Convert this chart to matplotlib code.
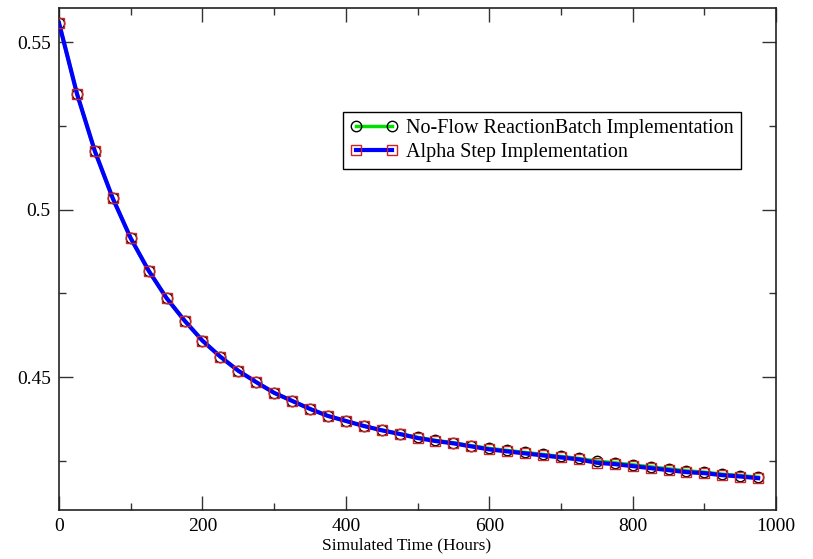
import matplotlib
matplotlib.use("Agg")
import matplotlib.pyplot as plt
import numpy as np

# Simulated time (hours), sampled every 25 h
hours = np.arange(0, 1000, 25)

# No-Flow ReactionBatch implementation
reaction_batch = [
    0.5558, 0.5347, 0.5175, 0.5034, 0.4915, 0.4818, 0.4736, 0.4669,
    0.4609, 0.4561, 0.4519, 0.4485, 0.4453, 0.4429, 0.4405, 0.4384,
    0.4369, 0.4354, 0.4342, 0.4331, 0.4320, 0.4311, 0.4304, 0.4295,
    0.4287, 0.4281, 0.4275, 0.4269, 0.4263, 0.4257, 0.4249, 0.4244,
    0.4238, 0.4232, 0.4226, 0.4220, 0.4216, 0.4210, 0.4206, 0.4201,
]

# Alpha step implementation
alpha_step = [
    0.5558, 0.5347, 0.5175, 0.5034, 0.4915, 0.4818, 0.4736, 0.4669,
    0.4609, 0.4561, 0.4519, 0.4485, 0.4453, 0.4429, 0.4405, 0.4384,
    0.4369, 0.4354, 0.4341, 0.4330, 0.4318, 0.4309, 0.4302, 0.4293,
    0.4284, 0.4278, 0.4272, 0.4266, 0.4260, 0.4254, 0.4244, 0.4240,
    0.4234, 0.4228, 0.4222, 0.4216, 0.4213, 0.4207, 0.4203, 0.4198,
]

plt.rcParams["font.family"] = ["Liberation Serif", "DejaVu Serif"]

fig = plt.figure(figsize=(8.13, 5.59), dpi=100)
ax = fig.add_axes([0.0726, 0.0877, 0.882, 0.898])

ax.plot(hours, reaction_batch, color="#00e000", linewidth=2.5,
        marker="o", markersize=7.5, markerfacecolor="none",
        markeredgecolor="black", markeredgewidth=1.0,
        label="No-Flow ReactionBatch Implementation", zorder=2)
ax.plot(hours, alpha_step, color="#0000ff", linewidth=3.0,
        marker="s", markersize=7, markerfacecolor="none",
        markeredgecolor="#cc2222", markeredgewidth=1.0,
        label="Alpha Step Implementation", zorder=3)

ax.set_xlim(0, 1000)
ax.set_ylim(0.4103, 0.5603)
ax.set_xticks(np.arange(0, 1001, 200))
ax.set_xticks(np.arange(100, 1000, 200), minor=True)
ax.set_yticks([0.45, 0.5, 0.55])
ax.set_yticklabels(["0.45", "0.5", "0.55"])
ax.set_yticks([0.425, 0.475, 0.525], minor=True)

ax.tick_params(which="both", direction="in", top=True, right=True,
               labelsize=14, width=1.0, color="#333333")
ax.tick_params(which="major", length=10, pad=6)
ax.tick_params(which="minor", length=5)
for spine in ax.spines.values():
    spine.set_linewidth(1.2)
    spine.set_color("#222222")

ax.set_xlabel("Simulated Time (Hours)", fontsize=12.5, labelpad=4)
ax.xaxis.set_label_coords(0.485, -0.055)

leg = ax.legend(loc="upper left", bbox_to_anchor=(0.396, 0.793),
                fontsize=14.5, numpoints=2, handlelength=2.4,
                fancybox=False, framealpha=1, edgecolor="black",
                borderaxespad=0, borderpad=0.35, labelspacing=0.25,
                handletextpad=0.4)
leg.get_frame().set_linewidth(1.0)

fig.savefig("out.png", dpi=100)
